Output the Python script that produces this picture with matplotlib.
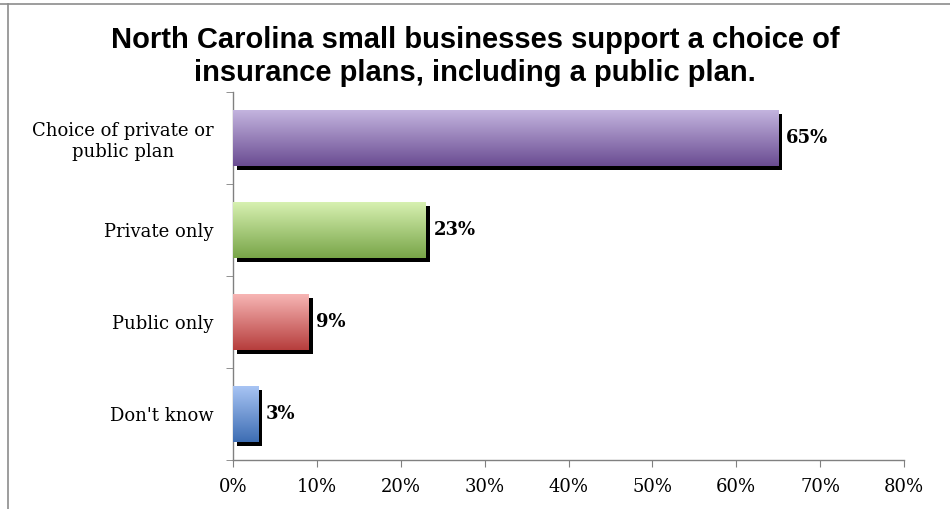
import numpy as np
import matplotlib
matplotlib.use("Agg")
import matplotlib.pyplot as plt
from matplotlib import patheffects
from matplotlib.colors import LinearSegmentedColormap
from matplotlib.lines import Line2D

categories = ["Choice of private or\npublic plan", "Private only", "Public only", "Don't know"]
values = [65, 23, 9, 3]
labels = ["65%", "23%", "9%", "3%"]
x_ticks = [0, 10, 20, 30, 40, 50, 60, 70, 80]
x_tick_labels = ["0%", "10%", "20%", "30%", "40%", "50%", "60%", "70%", "80%"]
# (top colour, bottom colour) for each bar's vertical gradient
gradients = [
    ("#c5b6e0", "#6a4c92"),
    ("#d9f2b3", "#78a548"),
    ("#f8b8b7", "#b63d3c"),
    ("#aac6f5", "#3d6db3"),
]
title = "North Carolina small businesses support a choice of\ninsurance plans, including a public plan."

serif = ["DejaVu Serif"]

fig = plt.figure(figsize=(9.5, 5.09), dpi=100)
ax = fig.add_axes([0.2453, 0.0963, 0.7063, 0.723])

ypos = np.arange(len(categories))[::-1]
bar_h = 0.61

grad = np.linspace(0, 1, 256).reshape(-1, 1)
for y, v, (c_top, c_bot) in zip(ypos, values, gradients):
    bar = ax.barh(y, v, height=bar_h, color=c_bot, zorder=2,
                  path_effects=[patheffects.SimplePatchShadow(offset=(3, -3), shadow_rgbFace="black", alpha=1.0),
                                patheffects.Normal()])[0]
    cmap = LinearSegmentedColormap.from_list("g", [c_top, c_bot])
    im = ax.imshow(grad, cmap=cmap, aspect="auto", origin="upper",
                   extent=(0, v, y - bar_h / 2, y + bar_h / 2), zorder=3)
    im.set_clip_path(bar)

for y, v, lab in zip(ypos, values, labels):
    ax.text(v + 0.95, y, lab, va="center", ha="left", fontsize=13,
            fontweight="bold", family=serif, zorder=4)

ax.set_xlim(0, 80)
ax.set_ylim(-0.5, 3.5)
ax.set_xticks(x_ticks)
ax.set_xticklabels(x_tick_labels, family=serif, fontsize=13)
ax.set_yticks(ypos)
ax.set_yticklabels(categories, family=serif, fontsize=13, multialignment="center")
ax.tick_params(axis="y", length=0, pad=14)
ax.tick_params(axis="x", length=5, color="#808080", pad=8)

# category boundary ticks on the value axis
ax.set_yticks(np.arange(-0.5, 4.0, 1.0), minor=True)
ax.tick_params(axis="y", which="minor", length=5, color="#808080")

for s in ["top", "right"]:
    ax.spines[s].set_visible(False)
for s in ["left", "bottom"]:
    ax.spines[s].set_color("#808080")
    ax.spines[s].set_linewidth(1.0)

fig.text(0.5, 0.889, title, ha="center", va="center", fontsize=21,
         fontweight="bold", family=["Liberation Sans"], linespacing=1.25)

# outer frame edges
fig.add_artist(Line2D([0, 1], [1 - 3.5 / 509] * 2, transform=fig.transFigure, color="#8c8c8c", lw=1.2))
fig.add_artist(Line2D([7.5 / 950] * 2, [0, 1 - 3.5 / 509], transform=fig.transFigure, color="#8c8c8c", lw=1.2))

fig.savefig("out.png", dpi=100)
